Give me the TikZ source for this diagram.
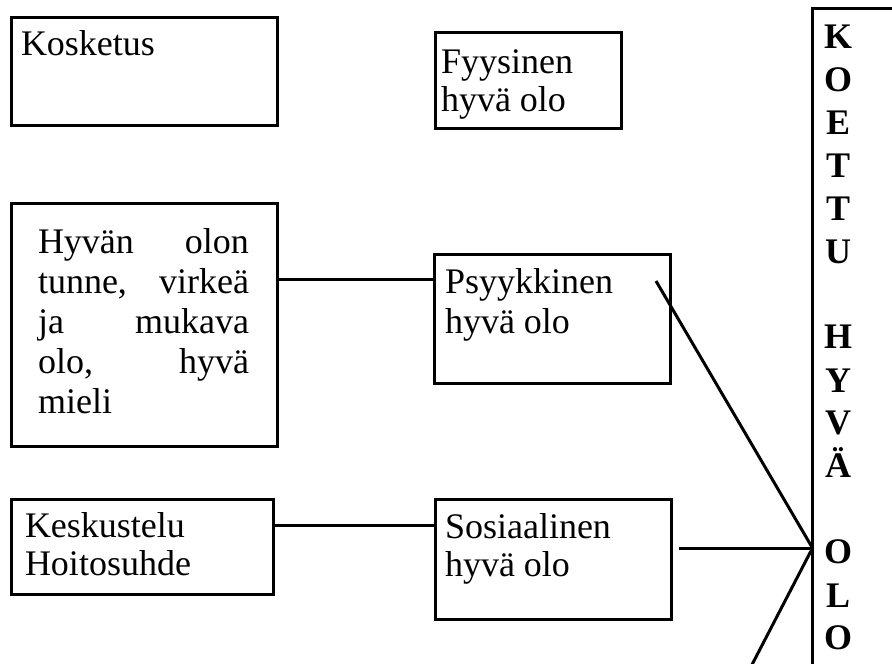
\documentclass[tikz,border=0pt]{standalone}
\usepackage{fontspec}
\setmainfont{Liberation Serif}
\newcommand\celltext[3]{\parbox[t]{#1}{\fontsize{36}{#2}\selectfont\raggedright #3}}
\newcommand\celljust[3]{\parbox[t]{#1}{\fontsize{36}{#2}\selectfont\noindent #3}}
\begin{document}
\begin{tikzpicture}[x=1pt,y=-1pt,
  box/.style={draw, line width=3pt, inner sep=0pt, outer sep=0pt, anchor=north west},
  txt/.style={inner sep=0pt, outer sep=0pt, anchor=base west},
  conn/.style={line width=3pt}]
\clip (0,0) rectangle (892,664);
\fill[white] (0,0) rectangle (892,664);

% boxes
\node[box, minimum width=266pt, minimum height=108pt] (kosk) at (11,17) {};
\node[box, minimum width=186pt, minimum height=96pt]  (fyys) at (435,32) {};
\node[box, minimum width=266pt, minimum height=243pt] (hyvan) at (11,203) {};
\node[box, minimum width=236pt, minimum height=129pt] (psyyk) at (434,254) {};
\node[box, minimum width=262pt, minimum height=95pt]  (kesk) at (11,499) {};
\node[box, minimum width=236pt, minimum height=120pt] (sos) at (435,499) {};
\node[box, minimum width=120pt, minimum height=700pt] (koettu) at (812.5,8) {};

% texts
\node[txt] (kosk-t) at (21,55) {\celltext{240pt}{38pt}{Kosketus}};
\node[txt] (fyys-t) at (441,73) {\celltext{175pt}{38pt}{Fyysinen\\hyvä olo}};
\node[txt] (hyvan-t) at (38,253) {\celljust{211pt}{40pt}{Hyvän\hfill olon\\
  tunne,\hfill virkeä\\ ja\hfill mukava\\ olo,\hfill hyvä\\ mieli}};
\node[txt] (psyyk-t) at (445,293) {\celltext{220pt}{40pt}{Psyykkinen\\hyvä olo}};
\node[txt] (kesk-t) at (25,537) {\celltext{240pt}{38pt}{Keskustelu\\Hoitosuhde}};
\node[txt] (sos-t) at (445,538) {\celltext{220pt}{38pt}{Sosiaalinen\\hyvä olo}};
\node[inner sep=0pt, anchor=base] (koettu-t) at (838,48)
  {\parbox[t]{50pt}{\centering\bfseries\fontsize{36}{43}\selectfont
   K\\O\\E\\T\\T\\U\\[43pt]H\\Y\\V\\Ä\\[43pt]O\\L\\O}};

% connectors
\coordinate (j)  at (koettu.west |- 0,548);
\coordinate (d1) at (656,281);
\coordinate (s1) at (679,548);
\coordinate (d2) at (743,682);
\draw[conn] (hyvan.east |- 0,279) -- (psyyk.west |- 0,279);
\draw[conn] (kesk.east |- 0,525) -- (sos.west |- 0,525);
\draw[conn] (s1) -- (j);
\draw[conn] (d1) -- (j) -- (d2);
\end{tikzpicture}
\end{document}
